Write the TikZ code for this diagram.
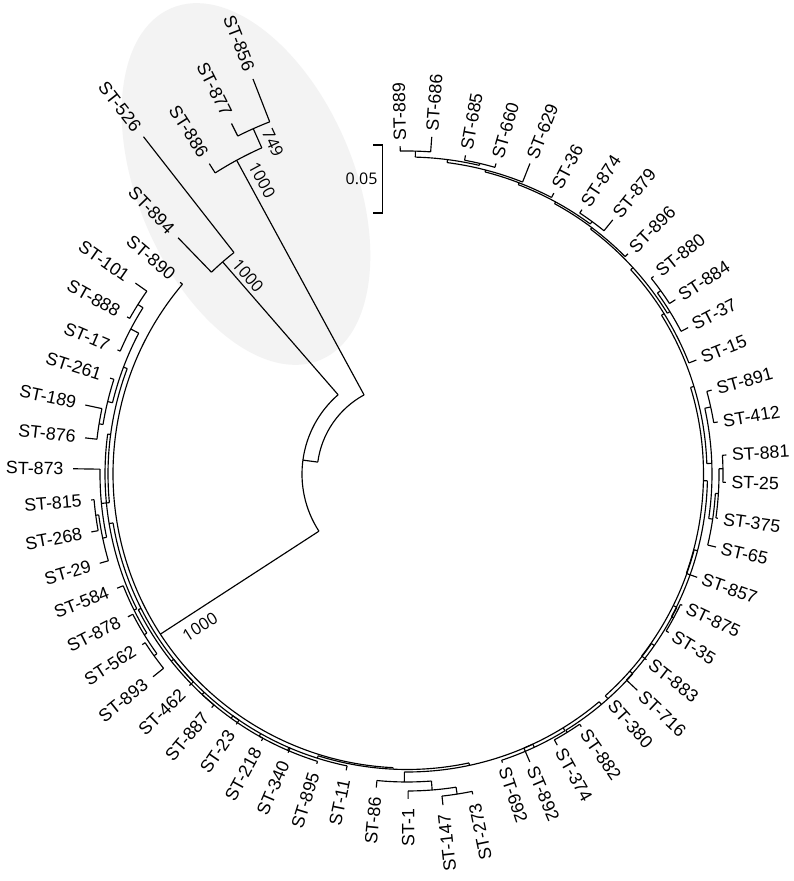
\documentclass[tikz,border=0pt]{standalone}
\usepackage{fontspec}
\setmainfont{Liberation Sans}
\newfontfamily\bsfont{Open Sans}
\usetikzlibrary{calc}
\definecolor{hl}{RGB}{243,243,243}
\newcommand\tArc[3]{\draw ($(C)+(#2:#1pt)$) arc[start angle=#2, end angle=#3, radius=#1pt];}
\newcommand\tRad[3]{\draw ($(C)+(#1:#2pt)$) -- ($(C)+(#1:#3pt)$);}
\newcommand\LblR[3]{\node[lbl,anchor=west,rotate=#2] (l#1) at ($(C)+(#2:#3pt)$) {ST-#1};}
\newcommand\LblL[3]{\node[lbl,anchor=east,rotate={#2+180}] (l#1) at ($(C)+(#2:#3pt)$) {ST-#1};}
\tikzset{
  lbl/.style={inner sep=0pt, font=\fontsize{17.8}{20}\selectfont},
  bs/.style={inner sep=0pt, font=\bsfont\fontsize{16.5}{18}\selectfont},
}
\begin{document}
\begin{tikzpicture}[x=1pt,y=1pt,line width=1.15pt]
\fill[white] (0,0) rectangle (794,881);
\useasboundingbox (0,0) rectangle (794,881);
\coordinate (C) at (407,407);
% highlight
\fill[hl, rotate around={23:(246,697)}] (246,697) ellipse [x radius=108pt, y radius=191pt];
% outgroup
\tArc{90}{118.5}{172.4}
\tRad{172.4}{90}{105}
\tArc{105}{131}{213}
\tRad{131}{105}{281}
\tArc{281}{128}{134.1}
\tRad{128}{281}{428}
\tRad{134.1}{281}{329}
\tRad{118.5}{90}{357}
\tArc{357}{114}{122.5}
\tRad{122.5}{357}{368}
\tRad{114}{357}{378}
\tArc{378}{111.3}{116.6}
\tRad{116.6}{378}{392}
\tRad{111.3}{378}{424}
\tRad{213}{105}{294}
% main clade
\tArc{294}{139.8}{267.3}
\tRad{139.8}{294}{297}
\tRad{267.3}{294}{295.5}
\tArc{295.5}{252.5}{282.1}
% left chain
\tRad{252.5}{295.5}{298} \tArc{298}{246.65}{258.4} \tRad{258.4}{298}{302.5}
\tRad{246.65}{298}{301} \tArc{301}{240.6}{252.7} \tRad{252.7}{301}{303.5}
\tRad{240.6}{301}{298} \tArc{298}{234.25}{246.9} \tRad{246.9}{298}{303}
\tRad{234.25}{298}{301} \tArc{301}{227.1}{241.4} \tRad{241.4}{301}{304}
\tRad{227.1}{301}{298} \tArc{298}{218.45}{235.7} \tRad{235.7}{298}{303}
\tRad{218.45}{298}{301} \tArc{301}{206.8}{230.1} \tRad{230.1}{301}{304.5}
\tRad{206.8}{301}{298} \tArc{298}{189.45}{224.2} \tRad{224.2}{298}{303.5}
\tRad{189.45}{298}{302} \tArc{302}{172.4}{206.5} \tRad{206.5}{302}{305}
\tArc{305}{201.5}{211.45} \tRad{201.5}{305}{311.6} \tRad{211.45}{305}{308}
\tArc{308}{207.1}{215.7} \tRad{207.1}{308}{313.5} \tRad{215.7}{308}{311.5}
\tArc{311.5}{212.8}{218.6} \tRad{212.8}{311.5}{315} \tRad{218.6}{311.5}{325}
\tRad{172.4}{302}{299} \tArc{299}{159.35}{185.5} \tRad{185.5}{299}{307}
\tArc{307}{179.1}{191.9} \tRad{179.1}{307}{334} \tRad{191.9}{307}{311}
\tArc{311}{187.55}{196.2} \tRad{187.55}{311}{314} \tArc{314}{184.7}{190.4}
\tRad{184.7}{314}{317} \tRad{190.4}{314}{321} \tRad{196.2}{311}{320}
\tRad{159.35}{299}{303} \tArc{303}{152.3}{166.4} \tRad{166.4}{303}{308} \tRad{152.3}{303}{312}
\tArc{308}{162.1}{170.75} \tRad{162.1}{308}{312} \tRad{170.75}{308}{312}
\tArc{312}{167.9}{173.6} \tRad{167.9}{312}{329} \tRad{173.6}{312}{324}
\tArc{312}{147.8}{156.8} \tRad{156.8}{312}{315} \tRad{147.8}{312}{318}
\tArc{318}{144.9}{150.7} \tRad{144.9}{318}{332} \tRad{150.7}{318}{321}
% right chain
\tRad{282.1}{295.5}{298}
\tArc{298}{269.5}{294.97}
\tRad{269.5}{298}{308} \tArc{308}{264.4}{274.55} \tRad{264.4}{308}{315} \tRad{274.55}{308}{317}
\tArc{317}{270.2}{278.9} \tRad{270.2}{317}{325} \tRad{278.9}{317}{324}
\tArc{324}{276.2}{281.6} \tRad{276.2}{324}{333} \tRad{281.6}{324}{327}
\tRad{294.97}{298}{301.5} \tArc{301.5}{288.3}{301.6} \tRad{288.3}{301.5}{304}
\tRad{301.6}{301.5}{298} \tArc{298}{293.1}{310.15} \tRad{293.1}{298}{313}
\tRad{310.15}{298}{301.5} \tArc{301.5}{301.8}{318.5} \tRad{301.8}{301.5}{304}
\tArc{304}{299}{304.6} \tRad{299}{304}{310} \tRad{304.6}{304}{307}
\tRad{318.5}{301.5}{297.5} \tArc{297.5}{311.8}{325.25} \tRad{311.8}{297.5}{301}
\tRad{325.25}{297.5}{301} \tArc{301}{316.8}{333.7} \tRad{316.8}{301}{316}
\tRad{333.7}{301}{297} \tArc{297}{322.2}{345.2} \tRad{322.2}{297}{303}
\tRad{345.2}{297}{300.5} \tArc{300.5}{331.65}{358.7} \tRad{331.65}{300.5}{303}
\tArc{303}{328.8}{334.5} \tRad{328.8}{303}{306} \tRad{334.5}{303}{305}
\tRad{358.7}{300.5}{296.5} \tArc{296.5}{340.4}{376.98} \tRad{340.4}{296.5}{308}
\tRad{376.98}{296.5}{300} \tArc{300}{362}{391.95} \tRad{362}{300}{305}
\tArc{305}{351.6}{372.45} \tRad{372.45}{305}{311} \tArc{311}{369.5}{375.4}
\tRad{369.5}{311}{315} \tRad{375.4}{311}{316} \tRad{351.6}{305}{309}
\tArc{309}{346.7}{356.4} \tRad{346.7}{309}{317.5} \tRad{356.4}{309}{312}
\tArc{312}{351.9}{360.95} \tRad{351.9}{312}{314} \tRad{360.95}{312}{316}
\tArc{316}{358.5}{363.4} \tRad{358.5}{316}{319} \tRad{363.4}{316}{320}
\tRad{391.95}{300}{303} \tArc{303}{381.5}{402.4} \tRad{381.5}{303}{311}
\tRad{402.4}{303}{306} \tArc{306}{391.7}{413.13} \tRad{391.7}{306}{309}
\tArc{309}{387.5}{395.85} \tRad{387.5}{309}{317} \tRad{395.85}{309}{313}
\tArc{313}{393}{398.7} \tRad{393}{313}{320} \tRad{398.7}{313}{316}
\tRad{413.13}{306}{308} \tArc{308}{404.9}{421.36} \tRad{404.9}{308}{312}
\tRad{421.36}{308}{310} \tArc{310}{413.75}{428.96} \tRad{413.75}{310}{313}
\tArc{313}{411}{416.5} \tRad{411}{313}{327} \tRad{416.5}{313}{317}
\tRad{428.96}{310}{312} \tArc{312}{422.4}{435.5} \tRad{422.4}{312}{317}
\tRad{435.5}{312}{314} \tArc{314}{428.4}{442.65} \tRad{428.4}{314}{334}
\tRad{442.65}{314}{317} \tArc{317}{436.8}{448.5} \tRad{436.8}{317}{319}
\tArc{319}{434}{439.6} \tRad{434}{319}{323} \tRad{439.6}{319}{324}
\tRad{448.5}{317}{323} \tArc{323}{445.8}{451.2} \tRad{445.8}{323}{338} \tRad{451.2}{323}{328}
% labels left
\LblL{856}{111.3}{433} \LblL{877}{116.6}{401} \LblL{886}{122.5}{377}
\LblL{526}{128}{437} \LblL{894}{134.1}{338} \LblL{890}{139.8}{306}
\LblL{101}{144.9}{341} \LblL{888}{150.7}{330} \LblL{17}{156.8}{324}
\LblL{261}{162.1}{321} \LblL{189}{167.9}{338} \LblL{876}{173.6}{333}
\LblL{873}{179.1}{343} \LblL{815}{184.7}{326} \LblL{268}{190.4}{330}
\LblL{29}{196.2}{329} \LblL{584}{201.5}{320.6} \LblL{878}{207.1}{322.5}
\LblL{562}{212.8}{324} \LblL{893}{218.6}{334} \LblL{462}{224.2}{312.5}
\LblL{887}{230.1}{313.5} \LblL{23}{235.7}{312} \LblL{218}{241.4}{313}
\LblL{340}{246.9}{312} \LblL{895}{252.7}{312.5} \LblL{11}{258.4}{311.5}
\LblL{86}{264.4}{324} \LblL{1}{270.2}{334} \LblL{147}{276.2}{342}
\LblL{273}{281.6}{336}
% labels right
\LblR{692}{288.3}{309} \LblR{892}{293.1}{318} \LblR{374}{299}{315}
\LblR{882}{304.6}{312} \LblR{380}{311.8}{306} \LblR{716}{316.8}{321}
\LblR{883}{322.2}{308} \LblR{35}{328.8}{311} \LblR{875}{334.5}{310}
\LblR{857}{340.4}{313} \LblR{65}{346.7}{322.5} \LblR{375}{351.9}{319}
\LblR{25}{358.5}{324} \LblR{881}{363.4}{325} \LblR{412}{369.5}{320}
\LblR{891}{375.4}{321} \LblR{15}{381.5}{316} \LblR{37}{387.5}{322}
\LblR{884}{393}{325} \LblR{880}{398.7}{321} \LblR{896}{404.9}{317}
\LblR{879}{411}{332} \LblR{874}{416.5}{322} \LblR{36}{422.4}{322}
\LblR{629}{428.4}{339} \LblR{660}{434}{328} \LblR{685}{439.6}{329}
\LblR{686}{445.8}{343} \LblR{889}{451.2}{333}
% bootstrap values
\node[bs,rotate=-65] (b749) at (273,738) {749};
\node[bs,rotate=-61.5] (b1000a) at (262,701) {1000};
\node[bs,rotate=-49] (b1000b) at (248,605) {1000};
\node[bs,rotate=32] (b1000c) at (200,254) {1000};
% scale bar
\coordinate (sbt) at (382.5,736);
\coordinate (sbb) at (382.5,668);
\draw (373,736) -- (sbt) -- (sbb) -- (373,668);
\node[bs,anchor=east,font=\bsfont\fontsize{16}{18}\selectfont] (sbl) at (378,702) {0.05};
\end{tikzpicture}
\end{document}
